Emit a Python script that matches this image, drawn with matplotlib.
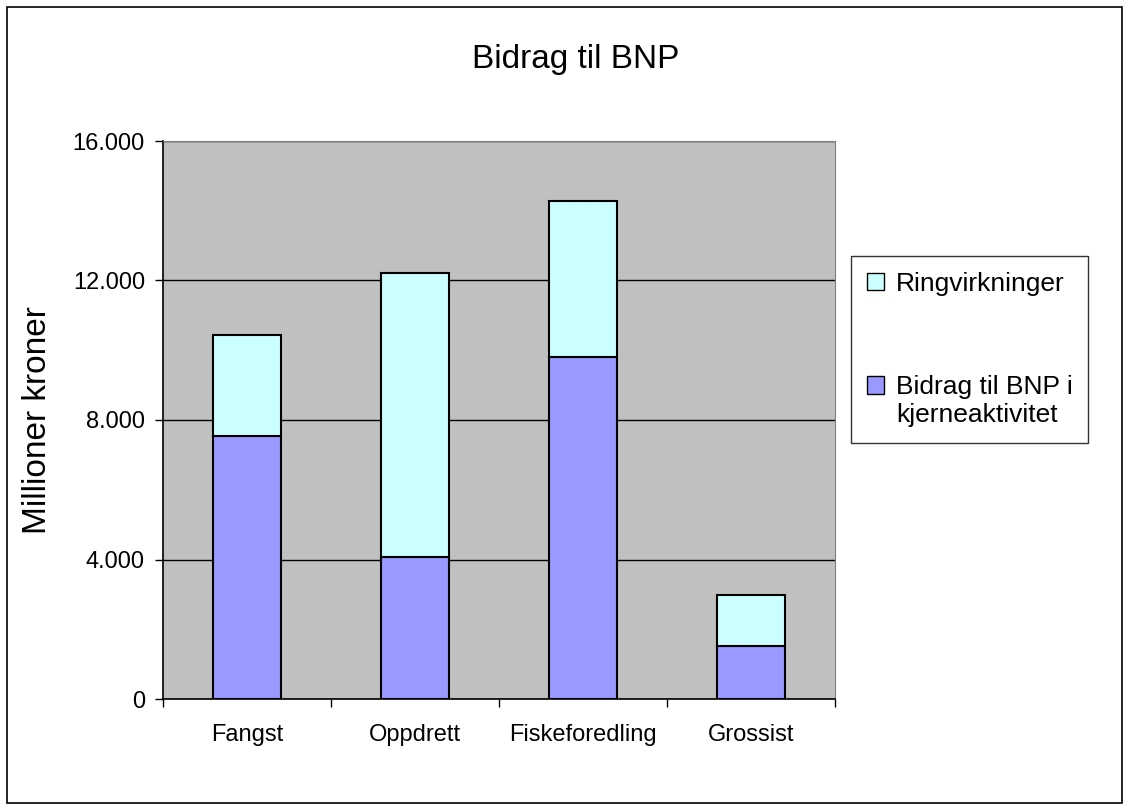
import matplotlib
matplotlib.use("Agg")
import matplotlib.pyplot as plt
from matplotlib.patches import Patch, Rectangle
from matplotlib.legend_handler import HandlerPatch
from matplotlib.ticker import FuncFormatter, FixedLocator
import numpy as np

plt.rcParams['font.family'] = ['Liberation Sans', 'DejaVu Sans']

# data (millioner kroner)
categories = ['Fangst', 'Oppdrett', 'Fiskeforedling', 'Grossist']
kjerne = [7550, 4060, 9810, 1525]
ringvirkninger = [2895, 8150, 4475, 1455]
y_ticks = [0, 4000, 8000, 12000, 16000]

col_kjerne = '#9999FF'
col_ring = '#CCFFFF'

W, H = 1129, 810
fig = plt.figure(figsize=(W / 100, H / 100), dpi=100)

# plot area in pixels: x 163..835, y 141..699
ax = fig.add_axes([163 / W, 1 - 699 / H, 672 / W, 558 / H])
ax.set_facecolor('#C0C0C0')

x = np.arange(len(categories))
ax.bar(x, kjerne, width=0.4, color=col_kjerne, edgecolor='black', linewidth=1.5, zorder=3)
ax.bar(x, ringvirkninger, width=0.4, bottom=kjerne, color=col_ring,
       edgecolor='black', linewidth=1.5, zorder=3)

ax.set_xlim(-0.5, len(categories) - 0.5)
ax.set_ylim(0, 16000)

# y axis
ax.set_yticks(y_ticks)
ax.yaxis.set_major_formatter(FuncFormatter(lambda v, p: f"{int(v):,}".replace(',', '.')))
ax.yaxis.grid(True, color='black', linewidth=1)
ax.set_axisbelow(True)
ax.tick_params(axis='y', direction='out', length=6, width=1, pad=7, labelsize=17)

# x axis: ticks between categories, labels in the middle
ax.xaxis.set_major_locator(FixedLocator(np.arange(-0.5, len(categories), 1.0)))
ax.xaxis.set_major_formatter(FuncFormatter(lambda v, p: ''))
ax.xaxis.set_minor_locator(FixedLocator(x))
ax.set_xticklabels(categories, minor=True)
ax.tick_params(axis='x', which='major', direction='out', length=6, width=1)
ax.tick_params(axis='x', which='minor', length=0, pad=18, labelsize=17)

for s in ['top', 'right']:
    ax.spines[s].set_color('#808080')
for s in ['left', 'bottom']:
    ax.spines[s].set_color('black')
    ax.spines[s].set_linewidth(1.2)

# title and y label
fig.text(576 / W, 1 - 68 / H, 'Bidrag til BNP', ha='center', va='baseline', fontsize=24)
fig.text(38 / W, 1 - 420 / H, 'Millioner kroner', rotation=90, ha='center', va='center', fontsize=24)


# legend keys sit next to the first line of a two-line label
def key_patch(legend, orig_handle, xdescent, ydescent, width, height, fontsize):
    return Rectangle((-xdescent, -ydescent), width, height)


def key_patch_top(legend, orig_handle, xdescent, ydescent, width, height, fontsize):
    return Rectangle((-xdescent, -ydescent + 0.6 * fontsize), width, height)


handles = [Patch(facecolor=col_ring, edgecolor='black', linewidth=1),
           Patch(facecolor=col_kjerne, edgecolor='black', linewidth=1)]
labels = ['Ringvirkninger', 'Bidrag til BNP i\nkjerneaktivitet']
leg = fig.legend(handles, labels, loc='upper left', bbox_to_anchor=(851 / W, 1 - 256 / H),
                 fontsize=19, frameon=True, fancybox=False, shadow=False,
                 borderaxespad=0, borderpad=0.6, handlelength=0.65, handleheight=0.65,
                 handletextpad=0.45, labelspacing=3.0,
                 handler_map={handles[0]: HandlerPatch(patch_func=key_patch),
                              handles[1]: HandlerPatch(patch_func=key_patch_top)})
leg.get_frame().set_edgecolor('black')
leg.get_frame().set_linewidth(1)

# chart area border
fig.add_artist(Rectangle((7 / W, 7 / H), (1122 - 7) / W, (803 - 7) / H,
                         transform=fig.transFigure, fill=False, edgecolor='black', linewidth=1.2))

fig.savefig('out.png', dpi=100)
